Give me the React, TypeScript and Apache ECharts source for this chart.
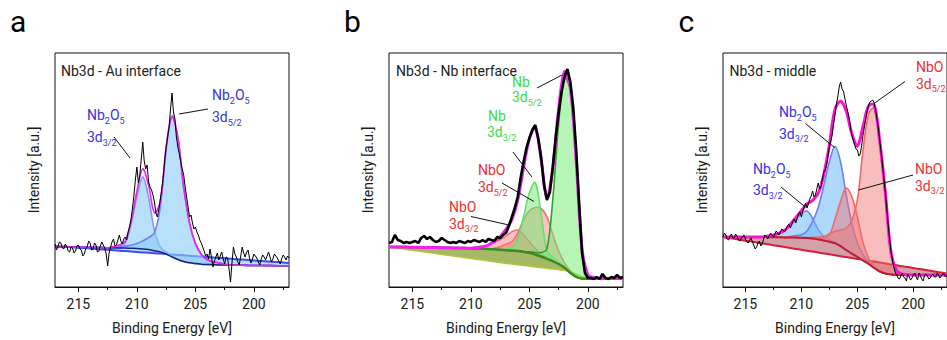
import React, { useEffect, useRef } from "react";
import * as echarts from "echarts";

// ---------- energy grids (eV) ----------
const fitE = [217, 216.5, 216, 215.5, 215, 214.5, 214, 213.5, 213, 212.5, 212, 211.5, 211, 210.5, 210, 209.5, 209, 208.5, 208, 207.5, 207, 206.5, 206, 205.5, 205, 204.5, 204, 203.5, 203, 202.5, 202, 201.5, 201, 200.5, 200, 199.5, 199, 198.5, 198, 197.5, 197];
const rawE25 = [217, 216.75, 216.5, 216.25, 216, 215.75, 215.5, 215.25, 215, 214.75, 214.5, 214.25, 214, 213.75, 213.5, 213.25, 213, 212.75, 212.5, 212.25, 212, 211.75, 211.5, 211.25, 211, 210.75, 210.5, 210.25, 210, 209.75, 209.5, 209.25, 209, 208.75, 208.5, 208.25, 208, 207.75, 207.5, 207.25, 207, 206.75, 206.5, 206.25, 206, 205.75, 205.5, 205.25, 205, 204.75, 204.5, 204.25, 204, 203.75, 203.5, 203.25, 203, 202.75, 202.5, 202.25, 202, 201.75, 201.5, 201.25, 201, 200.75, 200.5, 200.25, 200, 199.75, 199.5, 199.25, 199, 198.75, 198.5, 198.25, 198, 197.75, 197.5, 197.25, 197];
const rawE125 = [
  217, 216.875, 216.75, 216.625, 216.5, 216.375, 216.25, 216.125,
  216, 215.875, 215.75, 215.625, 215.5, 215.375, 215.25, 215.125,
  215, 214.875, 214.75, 214.625, 214.5, 214.375, 214.25, 214.125,
  214, 213.875, 213.75, 213.625, 213.5, 213.375, 213.25, 213.125,
  213, 212.875, 212.75, 212.625, 212.5, 212.375, 212.25, 212.125,
  212, 211.875, 211.75, 211.625, 211.5, 211.375, 211.25, 211.125,
  211, 210.875, 210.75, 210.625, 210.5, 210.375, 210.25, 210.125,
  210, 209.875, 209.75, 209.625, 209.5, 209.375, 209.25, 209.125,
  209, 208.875, 208.75, 208.625, 208.5, 208.375, 208.25, 208.125,
  208, 207.875, 207.75, 207.625, 207.5, 207.375, 207.25, 207.125,
  207, 206.875, 206.75, 206.625, 206.5, 206.375, 206.25, 206.125,
  206, 205.875, 205.75, 205.625, 205.5, 205.375, 205.25, 205.125,
  205, 204.875, 204.75, 204.625, 204.5, 204.375, 204.25, 204.125,
  204, 203.875, 203.75, 203.625, 203.5, 203.375, 203.25, 203.125,
  203, 202.875, 202.75, 202.625, 202.5, 202.375, 202.25, 202.125,
  202, 201.875, 201.75, 201.625, 201.5, 201.375, 201.25, 201.125,
  201, 200.875, 200.75, 200.625, 200.5, 200.375, 200.25, 200.125,
  200, 199.875, 199.75, 199.625, 199.5, 199.375, 199.25, 199.125,
  199, 198.875, 198.75, 198.625, 198.5, 198.375, 198.25, 198.125,
  198, 197.875, 197.75, 197.625, 197.5, 197.375, 197.25, 197.125,
  197,
];

const xTickLabels = [200, 205, 210, 215];
const xMinorTicks = [197.5, 202.5, 207.5, 212.5];

// ---------- panel a : Nb3d - Au interface ----------
const aLinear = [41, 40.6, 40.2, 39.7, 39.3, 38.9, 38.5, 38, 37.6, 37.2, 36.8, 36.3, 35.9, 35.5, 35.1, 34.6, 34.2, 33.8, 33.4, 32.9, 32.5, 32.1, 31.7, 31.2, 30.8, 30.4, 30, 29.5, 29.1, 28.7, 28.3, 27.8, 27.4, 27, 26.6, 26.1, 25.7, 25.3, 24.9, 24.4, 24];
const aShirley = [40, 40, 40, 40, 39.8, 39.7, 39.6, 39.5, 39.4, 39.3, 39.2, 39, 38.9, 38.7, 38.5, 38.1, 37.4, 36.3, 35, 33, 30, 27.5, 25.5, 24.2, 23.4, 22.8, 22.5, 22.3, 22.1, 22, 21.9, 21.8, 21.7, 21.6, 21.5, 21.5, 21.4, 21.4, 21.3, 21.3, 21.3];
const aNb2O5_32 = [0, 0, 0, 0, 0, 0, 0, 0, 0, 0, 1, 2, 5, 24, 52, 72, 52, 20, 5, 2, 1, 0, 0, 0, 0, 0, 0, 0, 0, 0, 0, 0, 0, 0, 0, 0, 0, 0, 0, 0, 0];
const aNb2O5_52 = [0, 0, 0, 0, 0, 0, 0, 0, 0, 0, 0, 1, 2, 3, 5, 8, 12, 18, 45, 105, 140, 122, 74, 40, 20, 10, 5, 3, 2, 1, 0, 0, 0, 0, 0, 0, 0, 0, 0, 0, 0];
const aRaw = [
  43, 37, 40, 45, 44, 39, 38, 43,
  41, 36, 35, 40, 39, 34, 36, 41,
  42, 38, 37, 31, 33, 38, 40, 46,
  44, 37, 38, 44, 42, 35, 36, 41,
  45, 42, 39, 33, 21, 34, 40, 45,
  48, 41, 42, 47, 52, 46, 43, 48,
  50, 47, 55, 60, 68, 79, 92, 108,
  120, 104, 112, 128, 145, 126, 118, 122,
  105, 100, 97, 92, 85, 74, 70, 78,
  88, 98, 110, 126, 140, 150, 160, 178,
  194, 175, 168, 150, 140, 133, 125, 118,
  112, 100, 90, 80, 70, 72, 64, 58,
  60, 55, 52, 47, 44, 40, 36, 31,
  33, 28, 38, 30, 20, 26, 30, 34,
  27, 31, 35, 28, 23, 30, 29, 18,
  5, 24, 40, 33, 30, 25, 22, 31,
  40, 34, 30, 35, 37, 29, 24, 28,
  33, 31, 29, 25, 22, 28, 32, 30,
  27, 31, 35, 30, 25, 28, 33, 31,
  29, 26, 23, 28, 32, 30, 27, 31,
  29,
];

// ---------- panel b : Nb3d - Nb interface ----------
const bLinear = [40, 39.2, 38.4, 37.5, 36.7, 35.9, 35.1, 34.3, 33.4, 32.6, 31.8, 31, 30.2, 29.3, 28.5, 27.7, 26.9, 26.1, 25.2, 24.4, 23.6, 22.9, 22.2, 21.5, 20.8, 20.1, 19.4, 18.7, 18, 17.3, 16.6, 15.2, 13, 10.5, 9, 8.8, 8.7, 8.7, 8.7, 8.7, 8.7];
const bShirley = [40, 40, 40, 39.9, 39.8, 39.7, 39.6, 39.5, 39.4, 39.3, 39.2, 39.1, 39, 38.9, 38.7, 38.5, 38.3, 38, 37.7, 37.3, 36.8, 36.4, 35.9, 35.2, 34.2, 32.5, 30.5, 28.2, 25.8, 23, 19.2, 14, 10, 8.3, 8.2, 8.3, 8.4, 8.5, 8.5, 8.6, 8.6];
const bNb_52 = [0, 0, 0, 0, 0, 0, 0, 0, 0, 0, 0, 0, 0, 0, 0, 0, 0, 0, 0, 0, 0, 0, 0, 0, 1, 2, 4, 10, 62, 140, 190, 183, 115, 30, 4, 1, 0, 0, 0, 0, 0];
const bNb_32 = [0, 0, 0, 0, 0, 0, 0, 0, 0, 0, 0, 0, 0, 0, 0, 0, 0, 0, 0, 0, 1, 3, 12, 35, 60, 72, 42, 8, 4, 2, 1, 0, 0, 0, 0, 0, 0, 0, 0, 0, 0];
const bNbO_52 = [0, 0, 0, 0, 0, 0, 0, 0, 0, 0, 0, 0, 0, 0, 0, 0, 0, 0, 1, 3, 6, 9, 18, 32, 42, 47, 48, 42, 27, 13, 5, 2, 1, 0, 0, 0, 0, 0, 0, 0, 0];
const bNbO_32 = [0, 0, 0, 0, 0, 0, 0, 0, 0, 0, 0, 0, 0, 0, 0, 1, 2, 4, 7, 10, 14, 19, 21, 17, 11, 6, 3, 1, 0, 0, 0, 0, 0, 0, 0, 0, 0, 0, 0, 0, 0];
const bRaw = [44, 45, 52, 47, 46, 44, 45, 44, 45, 46, 44, 49, 51, 48, 50, 47, 45, 46, 49, 47, 45, 44, 45, 44, 46, 45, 44, 46, 45, 47, 46, 45, 47, 45, 48, 47, 46, 50, 49, 52, 54, 61, 70, 79, 90, 109, 125, 139, 149, 157, 162, 149, 130, 102, 87, 95, 120, 150, 174, 195, 210, 218, 205, 179, 137, 84, 34, 14, 9, 9, 8, 10, 8, 13, 9, 8, 10, 9, 12, 9, 10];

// ---------- panel c : Nb3d - middle ----------
const cLinear = [50, 49.1, 48.2, 47.3, 46.3, 45.4, 44.5, 43.6, 42.7, 41.8, 40.9, 40, 39, 38.1, 37.2, 36.3, 35.4, 34.5, 33.6, 32.7, 31.7, 30.8, 29.9, 29, 28.1, 27.2, 26.3, 25.4, 24.4, 23.5, 22.6, 21.7, 20.8, 19.9, 19, 18.1, 17.2, 16.3, 15.3, 14.4, 13.5];
const cShirley = [50, 50, 50, 50, 50, 50, 50, 50, 49.9, 49.8, 49.7, 49.6, 49.5, 49.4, 49.3, 49.1, 48.6, 47.6, 46.5, 45.2, 43.7, 40.8, 37, 33.4, 30, 26.5, 23, 19, 15.5, 13.5, 12.6, 12.2, 12, 12, 12, 12, 12, 12, 12, 12, 12];
const cNb2O5_32 = [0, 0, 0, 0, 0, 0, 0, 0, 1, 2, 4, 7, 12, 18, 24, 27, 20, 10, 4, 2, 1, 0, 0, 0, 0, 0, 0, 0, 0, 0, 0, 0, 0, 0, 0, 0, 0, 0, 0, 0, 0];
const cNb2O5_52 = [0, 0, 0, 0, 0, 0, 0, 0, 0, 0, 0, 0, 1, 2, 3, 7, 17, 32, 55, 80, 97, 84, 55, 30, 14, 6, 2, 1, 0, 0, 0, 0, 0, 0, 0, 0, 0, 0, 0, 0, 0];
const cNbO_32 = [0, 0, 0, 0, 0, 0, 0, 0, 0, 0, 0, 0, 0, 0, 0, 0, 1, 2, 3, 7, 24, 45, 62, 57, 40, 18, 6, 2, 0, 0, 0, 0, 0, 0, 0, 0, 0, 0, 0, 0, 0];
const cNbO_52 = [0, 0, 0, 0, 0, 0, 0, 0, 0, 0, 0, 0, 0, 0, 0, 0, 0, 2, 4, 8, 12, 16, 22, 33, 57, 110, 150, 160, 130, 80, 22, 4, 1, 0, 0, 0, 0, 0, 0, 0, 0];
const cRaw = [
  50, 54, 52, 48, 47, 51, 53, 49,
  49, 53, 51, 47, 46, 49, 50, 52,
  48, 45, 44, 47, 49, 45, 42, 38,
  40, 44, 46, 41, 43, 48, 52, 50,
  48, 51, 54, 52, 50, 53, 56, 54,
  52, 55, 58, 57, 55, 58, 61, 63,
  59, 62, 66, 68, 64, 69, 73, 75,
  70, 76, 80, 84, 79, 83, 88, 91,
  96, 90, 92, 98, 104, 98, 100, 108,
  115, 117, 122, 131, 140, 146, 152, 163,
  172, 183, 190, 200, 205, 198, 196, 189,
  182, 176, 170, 160, 152, 147, 142, 138,
  137, 131, 133, 141, 152, 160, 168, 176,
  182, 185, 186, 187, 184, 177, 168, 158,
  146, 134, 122, 108, 94, 78, 62, 48,
  36, 27, 20, 15, 12, 9, 8, 11,
  14, 10, 9, 6, 13, 10, 7, 9,
  12, 14, 10, 7, 14, 11, 8, 6,
  12, 13, 11, 8, 9, 12, 13, 10,
  10, 14, 12, 9, 11, 13, 13, 10,
  12,
];

// ---------- styling ----------
const FONT = "Roboto, 'Liberation Sans', Arial, sans-serif";
const LEFTS = [55, 389, 723];
const TOP = 53;
const SIZE = 234;
const BLUE_TXT = "#3434e4";
const GREEN_TXT = "#3ddc3d";
const RED_TXT = "#ee3030";
const SMOOTH = 0.35;

interface Comp { h: number[]; fill: string; line: string; width?: number }
interface Panel {
  lin: number[]; shir: number[];
  linColor: string; linWidth: number; shirColor: string; shirWidth: number; wedgeFill: string;
  comps: Comp[]; rawE: number[]; raw: number[]; rawWidth: number; envColor: string; envWidth: number; envOnTop: boolean;
}

const panels: Panel[] = [
  {
    lin: aLinear, shir: aShirley,
    linColor: "#3d4ff0", linWidth: 2, shirColor: "#1c2478", shirWidth: 1.5, wedgeFill: "rgba(120,190,240,0.55)",
    comps: [
      { h: aNb2O5_32, fill: "rgba(140,205,247,0.62)", line: "#8496f6" },
      { h: aNb2O5_52, fill: "rgba(140,205,247,0.62)", line: "#6f80f0" },
    ],
    rawE: rawE125, raw: aRaw, rawWidth: 1, envColor: "#f020f0", envWidth: 1.6, envOnTop: false,
  },
  {
    lin: bLinear, shir: bShirley,
    linColor: "#b3c83a", linWidth: 1.5, shirColor: "#3c8a22", shirWidth: 2.5, wedgeFill: "rgba(135,160,50,0.75)",
    comps: [
      { h: bNbO_32, fill: "rgba(240,110,110,0.42)", line: "#f07272" },
      { h: bNbO_52, fill: "rgba(240,110,110,0.42)", line: "#f07272" },
      { h: bNb_32, fill: "rgba(110,235,110,0.5)", line: "#66e066" },
      { h: bNb_52, fill: "rgba(110,235,110,0.5)", line: "#2f9f2f" },
    ],
    rawE: rawE25, raw: bRaw, rawWidth: 2.6, envColor: "#f020f0", envWidth: 3, envOnTop: false,
  },
  {
    lin: cLinear, shir: cShirley,
    linColor: "#d81e3c", linWidth: 2, shirColor: "#c01a36", shirWidth: 2, wedgeFill: "rgba(165,65,80,0.5)",
    comps: [
      { h: cNb2O5_32, fill: "rgba(110,185,245,0.55)", line: "#6f80f0" },
      { h: cNb2O5_52, fill: "rgba(110,185,245,0.55)", line: "#6f80f0" },
      { h: cNbO_32, fill: "rgba(240,110,110,0.45)", line: "#f06a6a" },
      { h: cNbO_52, fill: "rgba(240,110,110,0.45)", line: "#f06a6a" },
    ],
    rawE: rawE125, raw: cRaw, rawWidth: 1, envColor: "#ff10d0", envWidth: 3, envOnTop: true,
  },
];

// filled band between two curves (optional stroke on its upper curve), drawn through the axes
function band(g: number, lo: number[], hi: number[], fill: string, stroke?: string, width?: number) {
  const data = fitE.map((x, i) => [x, lo[i], hi[i]]);
  return {
    type: "custom", xAxisIndex: g * 2, yAxisIndex: g, silent: true, clip: true, animation: false,
    data, encode: { x: 0, y: [1, 2] },
    renderItem: (params: any, api: any) => {
      if (params.dataIndex !== 0) return null;
      const top = data.map((d) => api.coord([d[0], d[2]]));
      const bot = data.map((d) => api.coord([d[0], d[1]])).reverse();
      const children: any[] = [
        { type: "polygon", shape: { points: top.concat(bot), smooth: SMOOTH }, style: { fill, stroke: "none" } },
      ];
      if (stroke) {
        children.push({ type: "polyline", shape: { points: top, smooth: SMOOTH }, style: { fill: "none", stroke, lineWidth: width ?? 1.6 } });
      }
      return { type: "group", children };
    },
  };
}

// smooth curve drawn through the axes
function curve(g: number, ys: number[], stroke: string, width: number) {
  const data = fitE.map((x, i) => [x, ys[i]]);
  return {
    type: "custom", xAxisIndex: g * 2, yAxisIndex: g, silent: true, clip: true, animation: false,
    data, encode: { x: 0, y: 1 },
    renderItem: (params: any, api: any) => {
      if (params.dataIndex !== 0) return null;
      const pts = data.map((d) => api.coord([d[0], d[1]]));
      return { type: "polyline", shape: { points: pts, smooth: SMOOTH }, style: { fill: "none", stroke, lineWidth: width } };
    },
  };
}

function panelSeries(p: Panel, g: number) {
  const out: any[] = [];
  out.push(band(g, p.lin, p.shir, p.wedgeFill));
  out.push(curve(g, p.lin, p.linColor, p.linWidth));
  p.comps.forEach((c) => {
    const hi = p.shir.map((v, i) => v + c.h[i]);
    out.push(band(g, p.shir, hi, c.fill, c.line, c.width));
  });
  out.push(curve(g, p.shir, p.shirColor, p.shirWidth));
  const env = p.shir.map((v, i) => v + p.comps.reduce((s, c) => s + c.h[i], 0));
  const envS = curve(g, env, p.envColor, p.envWidth);
  const rawS = {
    type: "line", xAxisIndex: g * 2, yAxisIndex: g, symbol: "none", silent: true, animation: false,
    data: p.rawE.map((x, i) => [x, p.raw[i]]),
    lineStyle: { color: "#000", width: p.rawWidth },
  };
  if (p.envOnTop) out.push(rawS, envS);
  else out.push(envS, rawS);
  return out;
}

const rich = (color: string) => ({
  n: { fontSize: 14, fontFamily: FONT, fill: color, lineHeight: 14, verticalAlign: "top" },
  s: { fontSize: 9, fontFamily: FONT, fill: color, lineHeight: 9, padding: [8, 0, 0, 0], verticalAlign: "top" },
});

function lbl(x: number, y: number, text: string, color: string) {
  return {
    type: "text", x, y, z: 100, silent: true,
    style: { text, rich: rich(color), fill: color, fontSize: 14, fontFamily: FONT, verticalAlign: "top" },
  };
}
function ptr(x1: number, y1: number, x2: number, y2: number) {
  return { type: "line", z: 100, silent: true, shape: { x1, y1, x2, y2 }, style: { stroke: "#111", lineWidth: 1 } };
}
function plain(x: number, y: number, text: string, size: number, color: string) {
  return { type: "text", x, y, z: 100, silent: true, style: { text, fill: color, fontSize: size, fontFamily: FONT, verticalAlign: "top" } };
}

const OX = "{n|Nb}{s|2}{n|O}{s|5}";
const D32 = "{n|3d}{s|3/2}";
const D52 = "{n|3d}{s|5/2}";

function buildOption() {
  const xAxis: any[] = [];
  const yAxis: any[] = [];
  LEFTS.forEach((_, g) => {
    xAxis.push({
      gridIndex: g, type: "value", min: 197, max: 217, inverse: true, position: "bottom",
      name: "Binding Energy [eV]", nameLocation: "middle", nameGap: 34,
      nameTextStyle: { fontSize: 14, fontFamily: FONT, color: "#1a1a1a" },
      axisLine: { show: true, lineStyle: { color: "#111", width: 1 } },
      axisTick: { show: true, customValues: xTickLabels, length: 5, lineStyle: { color: "#111", width: 1 } },
      axisLabel: { show: true, customValues: xTickLabels, fontSize: 14, fontFamily: FONT, color: "#1a1a1a", margin: 10 },
      splitLine: { show: false },
    });
    xAxis.push({
      gridIndex: g, type: "value", min: 197, max: 217, inverse: true, position: "bottom",
      axisLine: { show: false },
      axisTick: { show: true, customValues: xMinorTicks, length: 3, lineStyle: { color: "#111", width: 1 } },
      axisLabel: { show: false },
      splitLine: { show: false },
    });
    yAxis.push({
      gridIndex: g, type: "value", min: 0, max: SIZE,
      name: "Intensity [a.u.]", nameLocation: "middle", nameGap: 14,
      nameTextStyle: { fontSize: 14, fontFamily: FONT, color: "#1a1a1a" },
      axisLine: { show: false }, axisTick: { show: false }, axisLabel: { show: false }, splitLine: { show: false },
    });
  });

  const series: any[] = [];
  panels.forEach((p, g) => series.push(...panelSeries(p, g)));

  const elements: any[] = [
    plain(10, 6.5, "a", 30, "#000"),
    plain(344, 6.5, "b", 30, "#000"),
    plain(678.5, 6.5, "c", 30, "#000"),
    plain(61, 63.5, "Nb3d - Au interface", 14, "#222"),
    plain(396, 64, "Nb3d - Nb interface", 14, "#222"),
    plain(729.5, 64, "Nb3d - middle", 14, "#222"),
    // panel a
    lbl(87, 108.2, OX, BLUE_TXT), lbl(87, 130, D32, BLUE_TXT), ptr(114, 137, 130, 158),
    lbl(212, 88.2, OX, BLUE_TXT), lbl(212, 110, D52, BLUE_TXT), ptr(179, 114, 208, 109),
    // panel b
    lbl(512, 75.2, "{n|Nb}", GREEN_TXT), lbl(512, 90.2, D52, GREEN_TXT), ptr(537, 88, 562, 75),
    lbl(488, 108.7, "{n|Nb}", GREEN_TXT), lbl(487, 125, D32, GREEN_TXT), ptr(513, 152, 532, 177),
    lbl(478, 163.2, "{n|NbO}", RED_TXT), lbl(478, 180, D52, RED_TXT), ptr(502, 183, 534, 201.5),
    lbl(449, 200, "{n|NbO}", RED_TXT), lbl(449, 216.5, D32, RED_TXT), ptr(471, 216.5, 509, 225),
    // panel c
    lbl(916, 60.2, "{n|NbO}", RED_TXT), lbl(916, 76.5, D52, RED_TXT), ptr(874, 103.5, 905, 81.5),
    lbl(779, 105.2, OX, BLUE_TXT), lbl(779, 126.5, D32, BLUE_TXT), ptr(805.5, 123.5, 834.5, 147.5),
    lbl(753, 162.2, OX, BLUE_TXT), lbl(753, 183.2, D32, BLUE_TXT), ptr(781, 187, 804, 206),
    lbl(915, 162.2, "{n|NbO}", RED_TXT), lbl(915, 178.7, D32, RED_TXT), ptr(858.5, 190, 913, 175),
  ];

  return {
    animation: false,
    backgroundColor: "#fff",
    textStyle: { fontFamily: FONT },
    grid: LEFTS.map((l) => ({
      left: l, top: TOP, width: SIZE, height: SIZE, show: true,
      borderColor: "#111", borderWidth: 1, backgroundColor: "rgba(0,0,0,0)", containLabel: false,
    })),
    xAxis, yAxis, series,
    graphic: { elements },
  };
}

export default function App() {
  const ref = useRef<HTMLDivElement>(null);
  useEffect(() => {
    if (!ref.current) return;
    const chart = echarts.init(ref.current, undefined, { renderer: "svg" });
    chart.setOption(buildOption() as any);
    return () => chart.dispose();
  }, []);
  return (
    <div
      ref={ref}
      style={{ position: "fixed", left: 0, top: 0, width: 947, height: 340, background: "#fff" }}
    />
  );
}
